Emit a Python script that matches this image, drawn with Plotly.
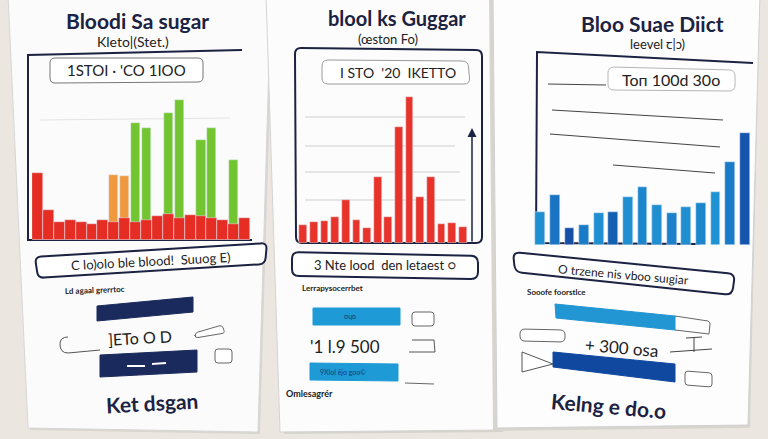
import plotly.graph_objects as go

W, H = 768, 439

# ---------------- data ----------------
left_idx = list(range(20))
left_red = [67, 30, 18, 20, 18, 16, 20, 18, 22, 18, 20, 24, 26, 22, 25, 24, 22, 20, 16, 22]
left_orange = [0, 0, 0, 0, 0, 0, 0, 65, 64, 0, 0, 0, 0, 0, 0, 0, 0, 0, 0, 0]
left_green = [0, 0, 0, 0, 0, 0, 0, 0, 0, 117, 112, 0, 127, 140, 0, 100, 112, 0, 80, 0]

mid_idx = list(range(16))
mid_red = [18, 21, 22, 26, 43, 23, 15, 66, 26, 116, 146, 46, 66, 19, 20, 16]

right_idx = list(range(15))
right_blue = [33, 50, 17, 20, 32, 33, 48, 58, 40, 32, 38, 42, 53, 83, 112]

titles = ["Bloodi Sa sugar", "blool ks Guggar", "Bloo Suae Diict"]
subtitles = ["Kleto|(Stet.)", "(œston Fo)", "leevel ꞇ|ɔ)"]
chart_labels = ["1STOI · 'CO 1IOO", "I STO  '20  IKETTO", "Toп 100d 30o"]
box_labels = ["C lo)olo ble blood!  Suuog E)", "3 Nte lood  den letaest ○", "O trzene nis vboo suıgiar"]
small_labels = ["Ld agaal grerrtoc", "Lerrapysocerrbet", "Sooofe foorstlce"]
mid_numbers = ["]ETo O D", "'1 l.9 500", "+ 300 osa"]
footers = ["Ket dsgan", "Omlesagrér", "Kelng e do.o"]

# ---------------- styles ----------------
NAVY = "#1c2242"
RED = "#e52d24"
GREEN = "#72c531"
ORANGE = "#f0983e"
BLUES = ["#1f8fd2", "#1a74c4", "#164fa6", "#1a7cc9", "#1f8fd2", "#1660b4", "#1f8fd2",
         "#1c86cd", "#1f8fd2", "#1c80cb", "#1f8fd2", "#1c86cd", "#1f92d4", "#1a7cc9", "#1655ad"]

fig = go.Figure()

# invisible trace to establish the pixel axes
fig.add_trace(go.Scatter(x=[0, W], y=[0, H], mode="markers", marker=dict(opacity=0),
                         hoverinfo="skip", showlegend=False, xaxis="x", yaxis="y"))


def dom_x(a, b):
    return [a / W, b / W]


def dom_y(top, bottom):
    return [1 - bottom / H, 1 - top / H]


# left chart
fig.add_trace(go.Bar(x=left_idx, y=left_orange, marker_color=ORANGE, width=0.85,
                     xaxis="x2", yaxis="y2", showlegend=False))
fig.add_trace(go.Bar(x=left_idx, y=left_green, marker_color=GREEN, width=0.85,
                     xaxis="x2", yaxis="y2", showlegend=False))
fig.add_trace(go.Bar(x=left_idx, y=left_red, marker_color=RED, width=1.0,
                     xaxis="x2", yaxis="y2", showlegend=False))
# middle chart
fig.add_trace(go.Bar(x=mid_idx, y=mid_red, marker_color="#e8332a", width=0.72,
                     xaxis="x3", yaxis="y3", showlegend=False))
# right chart
fig.add_trace(go.Bar(x=right_idx, y=right_blue, marker_color=BLUES, width=0.68,
                     xaxis="x4", yaxis="y4", showlegend=False))

hidden = dict(showgrid=False, zeroline=False, showticklabels=False, showline=False, fixedrange=True)

layout = dict(
    width=W, height=H, margin=dict(l=0, r=0, t=0, b=0),
    paper_bgcolor="#ebe7e0", plot_bgcolor="rgba(0,0,0,0)",
    barmode="overlay", bargap=0, showlegend=False,
    xaxis=dict(domain=[0, 1], range=[0, W], visible=False),
    yaxis=dict(domain=[0, 1], range=[H, 0], visible=False),
    xaxis2=dict(domain=dom_x(32, 250), range=[-0.5, 19.5], anchor="y2", **hidden),
    yaxis2=dict(domain=dom_y(60, 240), range=[0, 180], anchor="x2", **hidden),
    xaxis3=dict(domain=dom_x(298, 468), range=[-0.5, 15.5], anchor="y3", **hidden),
    yaxis3=dict(domain=dom_y(63, 243), range=[0, 180], anchor="x3", **hidden),
    xaxis4=dict(domain=dom_x(533, 752), range=[-0.5, 14.5], anchor="y4", **hidden),
    yaxis4=dict(domain=dom_y(65, 245), range=[0, 180], anchor="x4", **hidden),
)

shapes = []


def poly(pts, fill=None, line="#333", lw=1, layer="below", close=True):
    p = "M " + " L ".join(f"{x},{y}" for x, y in pts) + (" Z" if close else "")
    shapes.append(dict(type="path", path=p, xref="x", yref="y", layer=layer,
                       fillcolor=fill if fill else "rgba(0,0,0,0)",
                       line=dict(color=line, width=lw)))


def rbox(pts, r=5, fill="white", line="#333", lw=1, layer="below"):
    # rounded quadrilateral from 4 corner points
    n = len(pts)
    segs = []
    for i in range(n):
        p0 = pts[i - 1]
        p1 = pts[i]
        p2 = pts[(i + 1) % n]

        def towards(a, b, d):
            dx, dy = b[0] - a[0], b[1] - a[1]
            L = (dx * dx + dy * dy) ** 0.5
            return (a[0] + dx / L * d, a[1] + dy / L * d)
        a = towards(p1, p0, r)
        b = towards(p1, p2, r)
        segs.append((a, p1, b))
    path = f"M {segs[0][2][0]:.1f},{segs[0][2][1]:.1f}"
    for i in range(1, n + 1):
        a, c, b = segs[i % n]
        path += f" L {a[0]:.1f},{a[1]:.1f} Q {c[0]:.1f},{c[1]:.1f} {b[0]:.1f},{b[1]:.1f}"
    path += " Z"
    shapes.append(dict(type="path", path=path, xref="x", yref="y", layer=layer,
                       fillcolor=fill if fill else "rgba(0,0,0,0)",
                       line=dict(color=line, width=lw)))


def line(x0, y0, x1, y1, color="#333", lw=1, layer="below"):
    shapes.append(dict(type="line", x0=x0, y0=y0, x1=x1, y1=y1, xref="x", yref="y",
                       layer=layer, line=dict(color=color, width=lw)))


# paper sheets (with soft shadows)
poly([(10, -5), (273, -5), (260, 434), (30, 430)], fill="#d9d6d0", line="rgba(0,0,0,0)")
poly([(8, -5), (271, -5), (258, 432), (28, 428)], fill="#fbfbfb", line="#d6d6d6")
poly([(270, -5), (500, -5), (503, 432), (284, 434)], fill="#d6d3cd", line="rgba(0,0,0,0)")
poly([(266, -5), (497, -5), (500, 430), (280, 432)], fill="#fcfcfc", line="#d3d3d3")
poly([(489, -5), (760, -5), (750, 428), (493, 431)], fill="#d8d5cf", line="rgba(0,0,0,0)")
poly([(493, -5), (760, -5), (748, 425), (497, 428)], fill="#fdfdfd", line="#d0d0d0")

# ---- left chart frame ----
poly([(242, 50), (28, 55), (28, 240), (252, 240)], line=NAVY, lw=2, close=False)
rbox([(50, 58), (203, 58), (203, 82), (50, 83)], r=5, fill="white", line="#777", lw=1)
line(40, 120, 230, 118, color="#e4e4e4")

# ---- middle chart frame ----
rbox([(295, 48), (482, 50), (482, 243), (296, 243)], r=6, fill=None, line=NAVY, lw=2)
for gy, gx1 in [(117, 465), (146, 455), (172, 460), (200, 465)]:
    line(305, gy, gx1, gy, color="#cfcfcf")
rbox([(322, 60), (468, 61), (470, 84), (322, 84)], r=6, fill="white", line="#9a9a9a", lw=1)

# ---- right chart frame ----
poly([(753, 63), (537, 52), (536, 243), (700, 244)], line=NAVY, lw=2, close=False)
rbox([(608, 67), (735, 70), (735, 91), (608, 90)], r=6, fill="white", line="#b5b5b5", lw=1)
line(548, 84, 606, 85, color="#444")
line(552, 110, 723, 120, color="#444")
line(550, 134, 720, 147, color="#444")
line(613, 165, 715, 173, color="#444")

# ---- left lower section ----
rbox([(35, 257), (267, 243), (265, 264), (38, 278)], r=6, fill="white", line=NAVY, lw=2)
poly([(97, 306), (193, 297), (193, 312), (97, 321)], fill="#1b2a5c", line="#1b2a5c")
shapes.append(dict(type="path", path="M 68,337 Q 60,337 60,344 Q 60,353 68,353 L 100,350",
                   xref="x", yref="y", layer="below", line=dict(color="#555", width=1)))
rbox([(195, 333), (222, 325), (225, 333), (195, 338)], r=3, fill="white", line="#666", lw=1)
rbox([(215, 349), (232, 349), (232, 363), (215, 363)], r=3, fill="white", line="#666", lw=1)
poly([(100, 355), (197, 350), (197, 372), (100, 377)], fill="#1b2a5c", line="#1b2a5c")
line(127, 366, 145, 366, color="white", lw=2)
line(152, 364, 166, 363, color="white", lw=2)

# ---- middle lower section ----
rbox([(292, 252), (478, 256), (478, 279), (292, 276)], r=7, fill="white", line=NAVY, lw=2)
poly([(313, 308), (400, 308), (400, 325), (313, 325)], fill="#1e9ad6", line="#1e9ad6")
rbox([(412, 312), (434, 312), (434, 326), (412, 326)], r=3, fill="white", line="#666", lw=1)
shapes.append(dict(type="path", path="M 412,340 L 434,340 L 435,352 L 409,352",
                   xref="x", yref="y", layer="below", line=dict(color="#555", width=1)))
poly([(310, 363), (398, 364), (398, 381), (310, 380)], fill="#1e9ad6", line="#1e9ad6")
line(405, 383, 434, 384, color="#666")

# ---- right lower section ----
rbox([(513, 252), (735, 274), (732, 295), (515, 272)], r=7, fill="white", line=NAVY, lw=2)
poly([(555, 304), (675, 316), (675, 330), (556, 318)], fill="#2196d3", line="#2196d3")
shapes.append(dict(type="path", path="M 675,316 L 708,321 Q 710,322 710,324 L 709,334 L 675,330",
                   xref="x", yref="y", layer="below", line=dict(color="#666", width=1)))
rbox([(520, 329), (565, 330), (565, 342), (520, 341)], r=5, fill="white", line="#666", lw=1)
line(670, 352, 712, 349, color="#444")
line(694, 338, 694, 352, color="#444")
line(686, 338, 702, 337, color="#444")
poly([(522, 352), (553, 364), (522, 372)], fill="white", line="#555")
poly([(553, 352), (675, 364), (675, 382), (553, 367)], fill="#1048a0", line="#1048a0")
rbox([(685, 371), (712, 373), (712, 387), (685, 385)], r=3, fill="white", line="#666", lw=1)

layout["shapes"] = shapes

ann = []


def text(x, y, s, size, color=NAVY, bold=False, angle=0, family="Lato"):
    ann.append(dict(x=x, y=y, xref="x", yref="y", text=(f"<b>{s}</b>" if bold else s),
                    showarrow=False, textangle=angle,
                    font=dict(size=size, color=color, family=family),
                    xanchor="center", yanchor="middle"))


# titles & subtitles
text(137, 20, titles[0], 21, bold=True)
text(133, 41, subtitles[0], 14, color="#222")
text(397, 18, titles[1], 20, bold=True)
text(388, 39, subtitles[1], 13, color="#222")
text(652, 23, titles[2], 21, bold=True)
text(657, 44, subtitles[2], 13, color="#222")

# chart labels
text(126, 70, chart_labels[0], 15, color="#222")
text(398, 72, chart_labels[1], 14, color="#222")
text(671, 79, chart_labels[2], 16, color="#222")

# lower boxes
text(151, 261, box_labels[0], 13, color="#222", angle=-3)
text(385, 265, box_labels[1], 13, color="#222")
text(623, 274, box_labels[2], 12, color="#222", angle=5)

text(95, 290, small_labels[0], 8, color="#222", bold=True, angle=-2)
text(332, 288, small_labels[1], 8, color="#222", bold=True)
text(556, 292, small_labels[2], 8, color="#222", bold=True)

text(140, 337, mid_numbers[0], 16, color="#222", angle=-3)
text(345, 346, mid_numbers[1], 17, color="#222")
text(622, 347, mid_numbers[2], 17, color="#222", angle=5)

text(350, 316, "ʊɥɒ", 7, color="#123c7a")
text(343, 372, "9Xlol ējo goo©", 7, color="#123c7a")

text(152, 402, footers[0], 21, bold=True, angle=-3)
text(309, 393, footers[1], 9, color="#222", bold=True)
text(608, 405, footers[2], 21, bold=True, angle=5)

# up arrow in the middle chart
ann.append(dict(x=472, y=128, ax=472, ay=243, xref="x", yref="y", axref="x", ayref="y",
                showarrow=True, arrowhead=2, arrowsize=1.2, arrowwidth=1.5,
                arrowcolor=NAVY, text=""))

layout["annotations"] = ann
fig.update_layout(**layout)
fig.write_html("out.html")
